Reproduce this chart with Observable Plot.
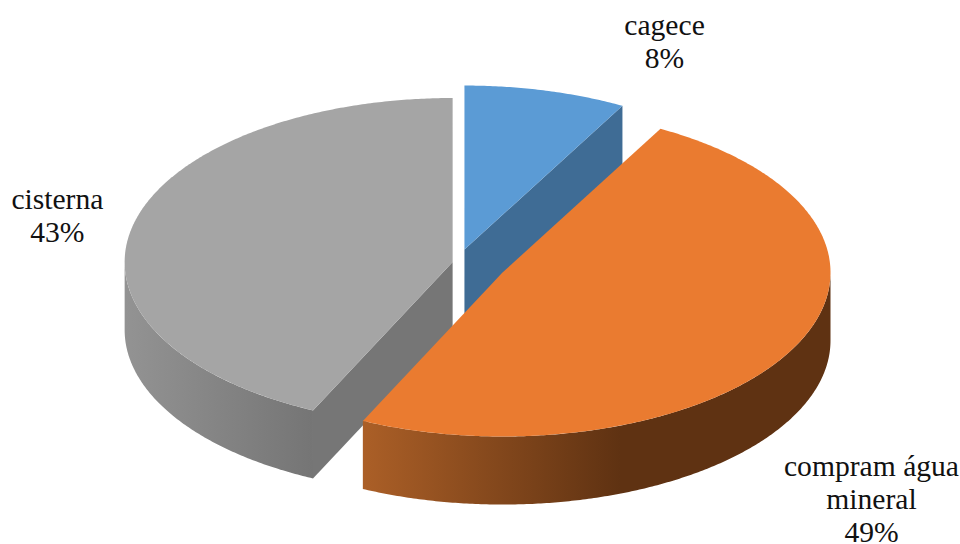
<!DOCTYPE html>
<html>
<head>
<meta charset="utf-8">
<script src="https://cdn.jsdelivr.net/npm/d3@7"></script>
<script src="https://cdn.jsdelivr.net/npm/@observablehq/plot@0.6"></script>
<style>
  html, body { margin: 0; padding: 0; background: #fff; }
  svg { display: block; }
</style>
</head>
<body>
<script>
// Water sources, share of households (%)
const names = ["cagece", "compram água\nmineral", "cisterna"];
const shares = [8, 49, 43];

// Colours of each slice: top face, cut face
const topColors = ["#5b9bd5", "#ea7b30", "#a5a5a5"];
const cutColors = ["#3f6c95", "#5f3212", "#767676"];

// Pie geometry, in radius units: x and y run along the tilted ellipse's axes
const pixelsX = 328, pixelsY = 164, centerX = 502, centerY = 272;
const depth = 0.415;
const offsets = [[-0.116, 0.14], [0, 0], [-0.152, 0.064]];
const labelAnchors = [[0.494, 1.412], [1.125, -1.378], [-1.357, 0.351]];

// Slice boundaries in degrees, clockwise from twelve o'clock
const cumulative = d3.cumsum(shares);
const bounds = shares.map((s, i) => [(cumulative[i] - s) * 3.6, cumulative[i] * 3.6]);

const rim = (i, deg, drop = 0) => {
  const t = (deg * Math.PI) / 180;
  return {x: offsets[i][0] + Math.sin(t), y: offsets[i][1] + Math.cos(t) - drop};
};
const apex = (i, drop = 0) => ({x: offsets[i][0], y: offsets[i][1] - drop});
const arc = (i, from, to, drop = 0) => {
  const n = Math.max(1, Math.ceil(Math.abs(to - from) * 2));
  return d3.range(n + 1).map((k) => rim(i, from + ((to - from) * k) / n, drop));
};

const topFace = (i) => [apex(i), ...arc(i, bounds[i][0], bounds[i][1])];
const outerWall = (i, from, to) => [...arc(i, from, to), ...arc(i, to, from, depth)];
const cutWall = (i, deg) => [apex(i), rim(i, deg), rim(i, deg, depth), apex(i, depth)];

const face = (points, fill) => Plot.line(points, {x: "x", y: "y", fill, stroke: "none"});

// Side shading, lit from the left
const gradients = () => {
  const defs = d3.create("svg:defs");
  const add = (id, stops) => {
    const g = defs.append("linearGradient").attr("id", id);
    stops.forEach(([offset, color]) =>
      g.append("stop").attr("offset", offset).attr("stop-color", color));
  };
  add("wall-orange", [[0, "#ab5f27"], [0.55, "#5f3212"], [1, "#5f3212"]]);
  add("wall-gray", [[0, "#939393"], [1, "#757575"]]);
  return defs.node();
};

const labels = names.map((name, i) => ({
  text: `${name}\n${shares[i]}%`,
  x: labelAnchors[i][0],
  y: labelAnchors[i][1]
}));

const chart = Plot.plot({
  width: 960,
  height: 544,
  margin: 0,
  style: {background: "#fff"},
  x: {axis: null, domain: [-centerX / pixelsX, (960 - centerX) / pixelsX]},
  y: {axis: null, domain: [(centerY - 544) / pixelsY, centerY / pixelsY]},
  marks: [
    gradients,
    // cisterna, furthest left and behind the large slice
    face(outerWall(2, bounds[2][0], 270), "url(#wall-gray)"),
    face(cutWall(2, bounds[2][0]), cutColors[2]),
    face(topFace(2), topColors[2]),
    // cagece, pulled out towards the back
    face(cutWall(0, bounds[0][1]), cutColors[0]),
    face(topFace(0), topColors[0]),
    // compram água mineral, in front
    face(outerWall(1, 90, bounds[1][1]), "url(#wall-orange)"),
    face(topFace(1), topColors[1]),
    Plot.text(labels, {
      x: "x",
      y: "y",
      text: "text",
      fontFamily: "Liberation Serif",
      fontSize: 29.6,
      lineHeight: 1.12,
      fill: "#111"
    })
  ]
});
document.body.append(chart);
</script>
</body>
</html>
